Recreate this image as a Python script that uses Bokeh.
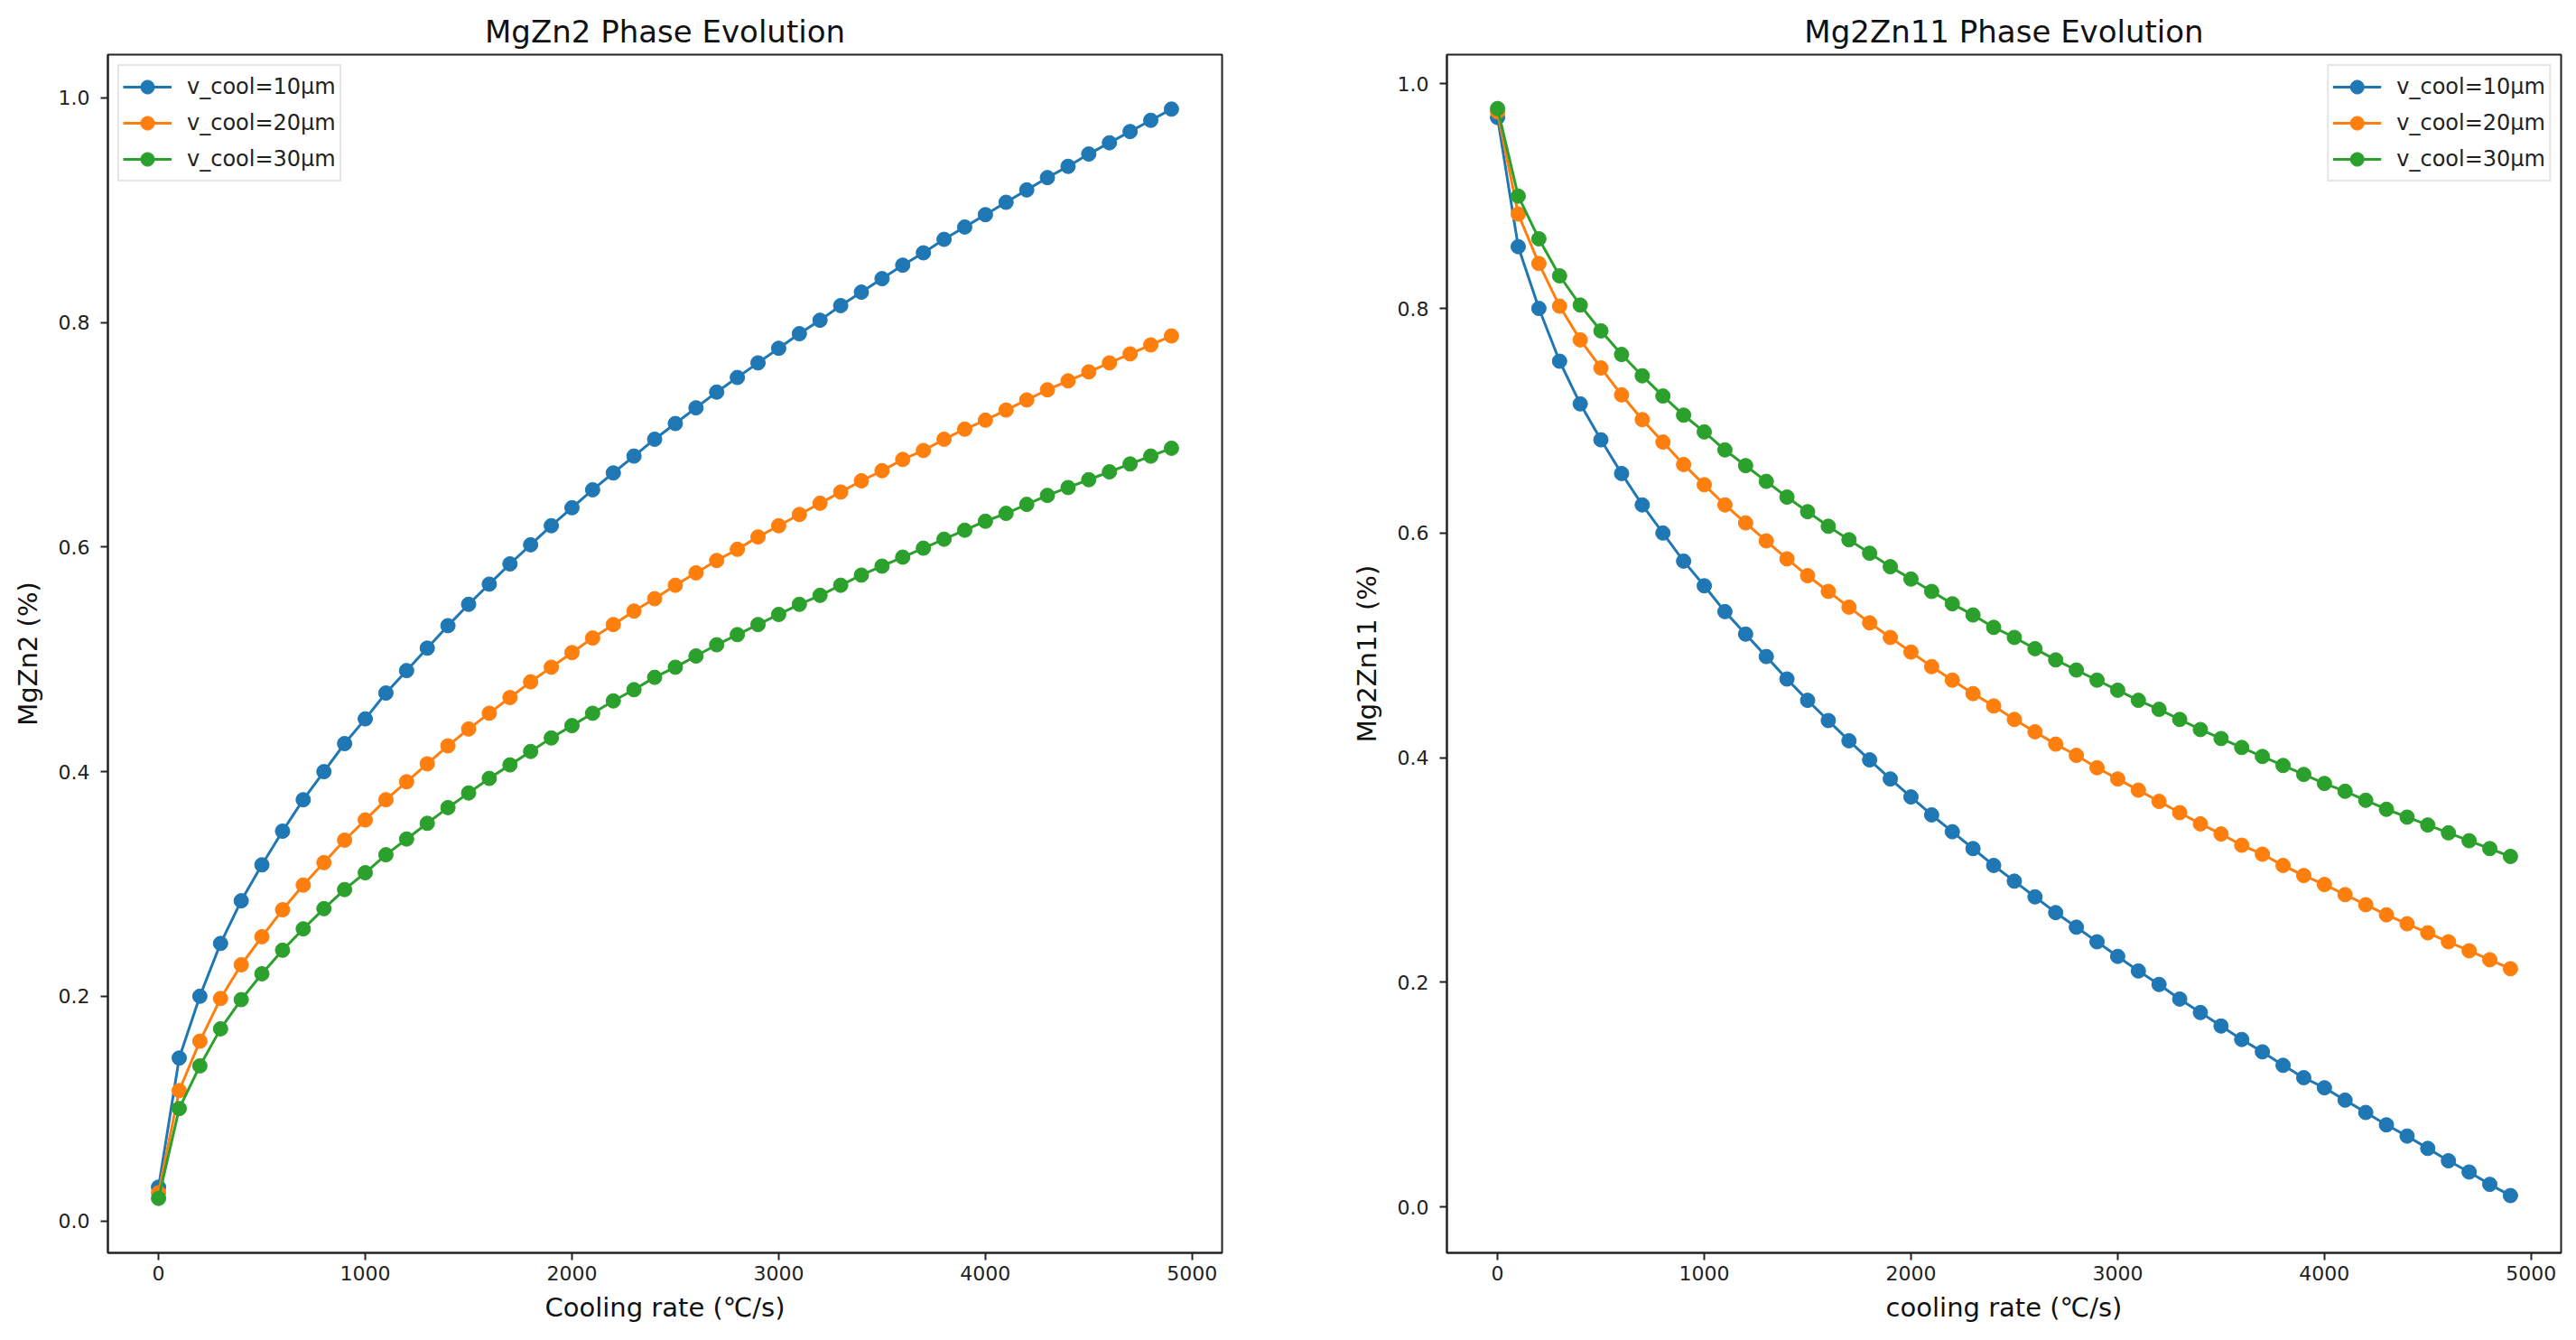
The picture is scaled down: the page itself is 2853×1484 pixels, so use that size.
from bokeh.plotting import figure
from bokeh.models import Range1d, FixedTicker, PrintfTickFormatter
from bokeh.layouts import row
from bokeh.embed import file_html
from bokeh.resources import INLINE

# ---------------- data ----------------
cooling_rate = [0, 100, 200, 300, 400, 500, 600, 700, 800, 900,
                1000, 1100, 1200, 1300, 1400, 1500, 1600, 1700, 1800, 1900,
                2000, 2100, 2200, 2300, 2400, 2500, 2600, 2700, 2800, 2900,
                3000, 3100, 3200, 3300, 3400, 3500, 3600, 3700, 3800, 3900,
                4000, 4100, 4200, 4300, 4400, 4500, 4600, 4700, 4800, 4900]

series_labels = ["v_cool=10μm", "v_cool=20μm", "v_cool=30μm"]
series_colors = ["#1f77b4", "#ff7f0e", "#2ca02c"]

mgzn2_10 = [0.030, 0.145, 0.200, 0.247, 0.285, 0.317, 0.347, 0.375, 0.400, 0.425,
            0.447, 0.470, 0.490, 0.510, 0.530, 0.549, 0.567, 0.585, 0.602, 0.619,
            0.635, 0.651, 0.666, 0.681, 0.696, 0.710, 0.724, 0.738, 0.751, 0.764,
            0.777, 0.790, 0.802, 0.815, 0.827, 0.839, 0.851, 0.862, 0.874, 0.885,
            0.896, 0.907, 0.918, 0.929, 0.939, 0.950, 0.960, 0.970, 0.980, 0.990]
mgzn2_20 = [0.025, 0.116, 0.160, 0.198, 0.228, 0.253, 0.277, 0.299, 0.319, 0.339,
            0.357, 0.375, 0.391, 0.407, 0.423, 0.438, 0.452, 0.466, 0.480, 0.493,
            0.506, 0.519, 0.531, 0.543, 0.554, 0.566, 0.577, 0.588, 0.598, 0.609,
            0.619, 0.629, 0.639, 0.649, 0.659, 0.668, 0.678, 0.686, 0.696, 0.705,
            0.713, 0.722, 0.731, 0.740, 0.748, 0.756, 0.764, 0.772, 0.780, 0.788]
mgzn2_30 = [0.020, 0.100, 0.138, 0.171, 0.197, 0.220, 0.241, 0.260, 0.278, 0.295,
            0.310, 0.326, 0.340, 0.354, 0.368, 0.381, 0.394, 0.406, 0.418, 0.430,
            0.441, 0.452, 0.463, 0.473, 0.484, 0.493, 0.503, 0.513, 0.522, 0.531,
            0.540, 0.549, 0.557, 0.566, 0.575, 0.583, 0.591, 0.599, 0.607, 0.615,
            0.623, 0.630, 0.638, 0.646, 0.653, 0.660, 0.667, 0.674, 0.681, 0.688]

mg2zn11_10 = [0.970, 0.855, 0.800, 0.753, 0.715, 0.683, 0.653, 0.625, 0.600, 0.575,
              0.553, 0.530, 0.510, 0.490, 0.470, 0.451, 0.433, 0.415, 0.398, 0.381,
              0.365, 0.349, 0.334, 0.319, 0.304, 0.290, 0.276, 0.262, 0.249, 0.236,
              0.223, 0.210, 0.198, 0.185, 0.173, 0.161, 0.149, 0.138, 0.126, 0.115,
              0.106, 0.095, 0.084, 0.073, 0.063, 0.052, 0.041, 0.031, 0.020, 0.010]
mg2zn11_20 = [0.975, 0.884, 0.840, 0.802, 0.772, 0.747, 0.723, 0.701, 0.681, 0.661,
              0.643, 0.625, 0.609, 0.593, 0.577, 0.562, 0.548, 0.534, 0.520, 0.507,
              0.494, 0.481, 0.469, 0.457, 0.446, 0.434, 0.423, 0.412, 0.402, 0.391,
              0.381, 0.371, 0.361, 0.351, 0.341, 0.332, 0.322, 0.314, 0.304, 0.295,
              0.287, 0.278, 0.269, 0.260, 0.252, 0.244, 0.236, 0.228, 0.220, 0.212]
mg2zn11_30 = [0.978, 0.900, 0.862, 0.829, 0.803, 0.780, 0.759, 0.740, 0.722, 0.705,
              0.690, 0.674, 0.660, 0.646, 0.632, 0.619, 0.606, 0.594, 0.582, 0.570,
              0.559, 0.548, 0.537, 0.527, 0.516, 0.507, 0.497, 0.487, 0.478, 0.469,
              0.460, 0.451, 0.443, 0.434, 0.425, 0.417, 0.409, 0.401, 0.393, 0.385,
              0.377, 0.370, 0.362, 0.354, 0.347, 0.340, 0.333, 0.326, 0.319, 0.312]

x_ticks = [0, 1000, 2000, 3000, 4000, 5000]
y_ticks = [0.0, 0.2, 0.4, 0.6, 0.8, 1.0]

FONT = "DejaVu Sans"


def make_panel(title, xlabel, ylabel, series, y_range, legend_loc,
               border_left, border_right):
    p = figure(
        title=title,
        frame_width=1234, frame_height=1327,
        x_range=Range1d(-245, 5145), y_range=y_range,
        output_backend="svg", toolbar_location=None,
        min_border_left=border_left, min_border_right=border_right,
        min_border_top=60, min_border_bottom=86,
        background_fill_color="white", border_fill_color="white",
    )
    p.title.text_font = FONT
    p.title.text_font_size = "34px"
    p.title.text_font_style = "normal"
    p.title.text_color = "#111111"
    p.title.align = "center"
    p.title.standoff = 12

    p.grid.visible = False
    p.outline_line_color = "#222222"
    p.outline_line_width = 2
    p.outline_line_alpha = 1.0

    for ax in (p.xaxis[0], p.yaxis[0]):
        ax.axis_line_color = "#222222"
        ax.axis_line_width = 2
        ax.major_tick_line_color = "#222222"
        ax.major_tick_line_width = 2
        ax.major_tick_out = 8
        ax.major_tick_in = 0
        ax.minor_tick_line_color = None
        ax.major_label_text_font = FONT
        ax.major_label_text_font_size = "22px"
        ax.major_label_text_color = "#222222"
        ax.axis_label_text_font = FONT
        ax.axis_label_text_font_size = "29px"
        ax.axis_label_text_font_style = "normal"
        ax.axis_label_text_color = "#111111"

    p.xaxis.ticker = FixedTicker(ticks=x_ticks)
    p.yaxis.ticker = FixedTicker(ticks=y_ticks)
    p.yaxis.formatter = PrintfTickFormatter(format="%.1f")
    p.xaxis.axis_label = xlabel
    p.yaxis.axis_label = ylabel
    p.xaxis.major_label_standoff = 6
    p.xaxis.axis_label_standoff = 10
    p.yaxis.major_label_standoff = 12
    p.yaxis.axis_label_standoff = 14

    for ys, lab, col in zip(series, series_labels, series_colors):
        p.line(cooling_rate, ys, line_color=col, line_width=3, legend_label=lab)
        p.scatter(cooling_rate, ys, marker="circle", size=16, fill_color=col,
                  line_color=col, legend_label=lab)

    lg = p.legend[0]
    lg.location = legend_loc
    lg.margin = 11
    lg.padding = 4
    lg.spacing = 2
    lg.label_height = 38
    lg.glyph_width = 54
    lg.glyph_height = 38
    lg.label_standoff = 17
    lg.label_text_font = FONT
    lg.label_text_font_size = "24px"
    lg.label_text_color = "#222222"
    lg.border_line_color = "#cccccc"
    lg.border_line_width = 2
    lg.background_fill_color = "white"
    lg.background_fill_alpha = 0.8
    return p


p1 = make_panel("MgZn2 Phase Evolution", "Cooling rate (℃/s)", "MgZn2 (%)",
                [mgzn2_10, mgzn2_20, mgzn2_30], Range1d(-0.0285, 1.0385),
                "top_left", 119, 34)
p2 = make_panel("Mg2Zn11 Phase Evolution", "cooling rate (℃/s)", "Mg2Zn11 (%)",
                [mg2zn11_10, mg2zn11_20, mg2zn11_30], Range1d(-0.041, 1.026),
                "top_right", 215, 8)

layout = row(p1, p2)
open("out.html", "w").write(file_html(layout, INLINE))
